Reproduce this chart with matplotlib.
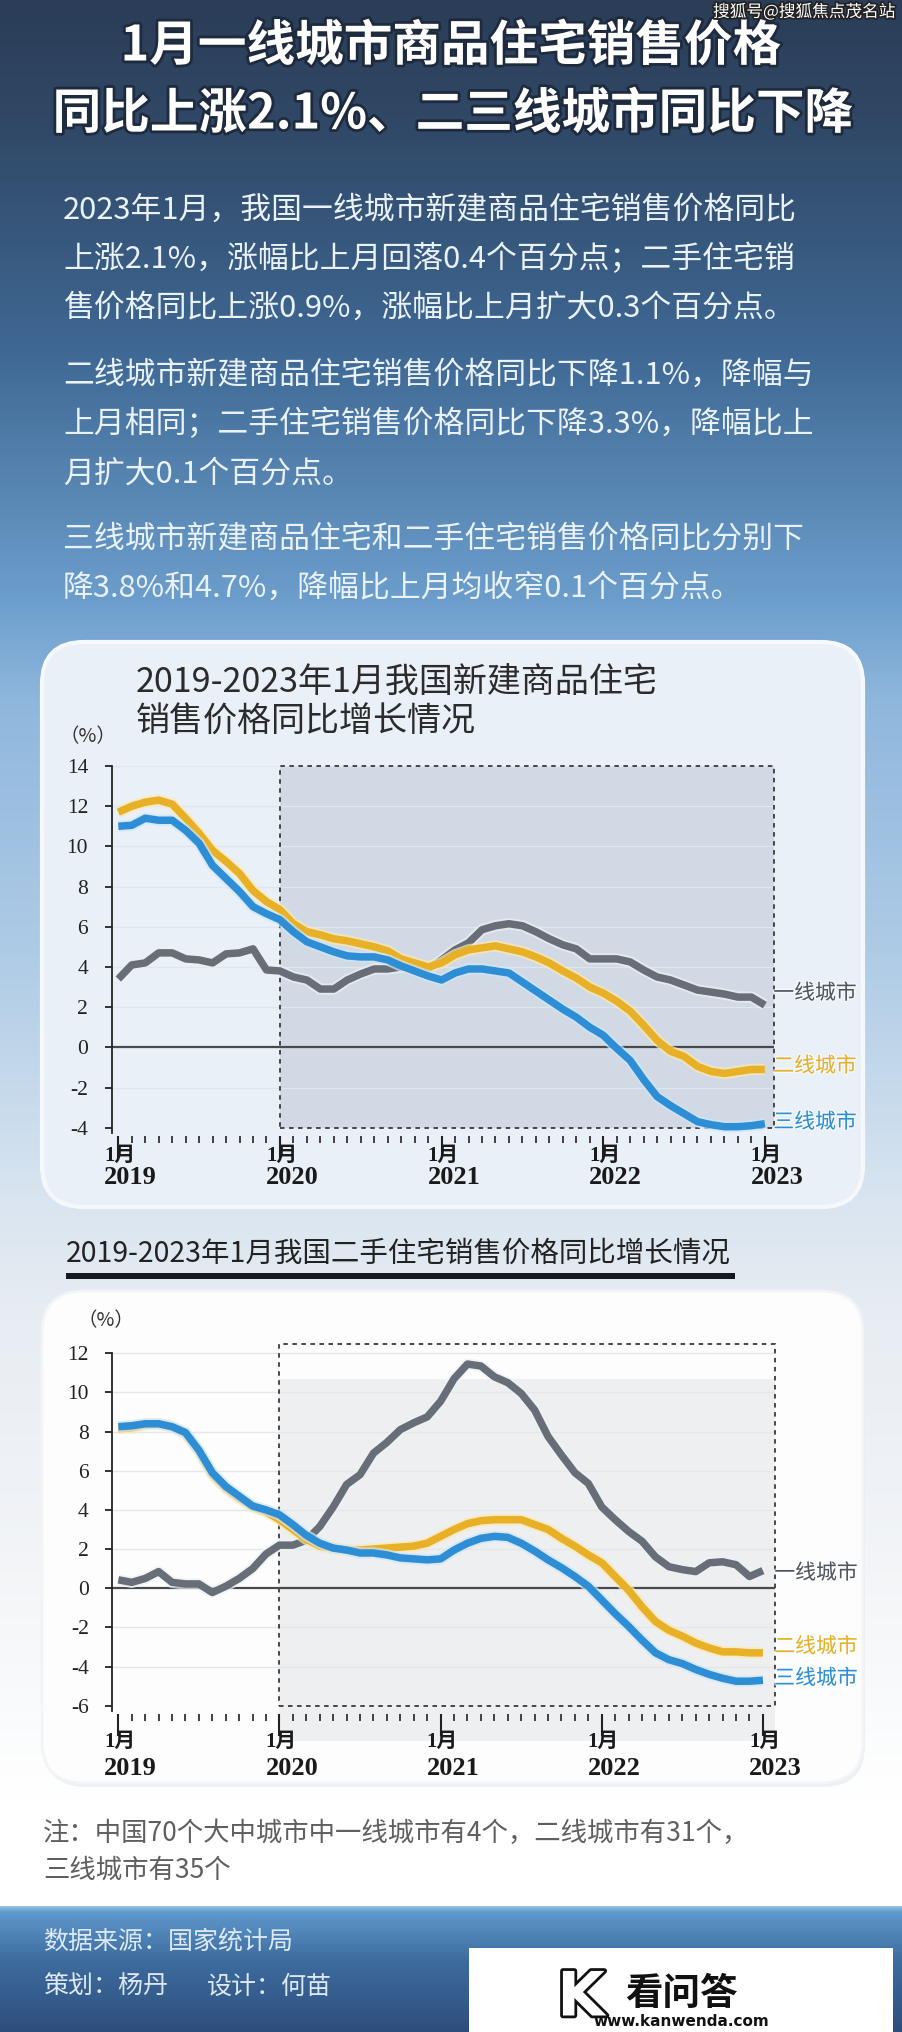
import numpy as np
import matplotlib
matplotlib.use('Agg')
import matplotlib.pyplot as plt
from matplotlib.patches import FancyBboxPatch, Rectangle
from matplotlib import patheffects as pe
from matplotlib import transforms

plt.rcParams['font.family'] = ['Noto Sans CJK SC', 'DejaVu Sans']

# 数据：2019年1月 - 2023年1月，月度同比(%)
months = np.arange(49)
new_t1 = [3.4, 4.1, 4.2, 4.7, 4.7, 4.4, 4.35, 4.2, 4.65, 4.7, 4.9, 3.85, 3.8, 3.5, 3.35, 2.9, 2.9,
          3.35, 3.65, 3.9, 3.9, 4.0, 4.0, 3.9, 4.35, 4.85, 5.2, 5.85, 6.05, 6.15, 6.05, 5.75, 5.4,
          5.1, 4.9, 4.4, 4.4, 4.4, 4.25, 3.85, 3.5, 3.35, 3.1, 2.85, 2.75, 2.65, 2.5, 2.5, 2.1]
new_t2 = [11.7, 12.0, 12.2, 12.3, 12.1, 11.4, 10.65, 9.8, 9.25, 8.65, 7.8, 7.25, 6.85, 6.15, 5.75,
          5.6, 5.4, 5.3, 5.15, 5.0, 4.8, 4.4, 4.2, 4.0, 4.2, 4.6, 4.85, 4.95, 5.05, 4.9, 4.75, 4.5,
          4.2, 3.8, 3.45, 3.0, 2.7, 2.3, 1.8, 1.1, 0.35, -0.2, -0.45, -0.95, -1.2, -1.3, -1.2, -1.1, -1.1]
new_t3 = [11.0, 11.05, 11.4, 11.3, 11.3, 10.8, 10.15, 9.05, 8.4, 7.75, 7.0, 6.65, 6.35, 5.75, 5.25,
          5.0, 4.75, 4.55, 4.5, 4.5, 4.35, 4.05, 3.8, 3.55, 3.35, 3.7, 3.9, 3.9, 3.8, 3.7, 3.25, 2.8,
          2.35, 1.9, 1.5, 1.0, 0.6, -0.05, -0.65, -1.6, -2.45, -2.9, -3.3, -3.7, -3.85, -3.95, -3.95, -3.9, -3.8]
used_t1 = [0.43, 0.3, 0.5, 0.85, 0.3, 0.22, 0.22, -0.22, 0.1, 0.5, 1.0, 1.75, 2.2, 2.2, 2.45, 3.15,
           4.15, 5.3, 5.8, 6.9, 7.45, 8.1, 8.45, 8.75, 9.55, 10.7, 11.45, 11.35, 10.8, 10.5, 9.95, 9.1,
           7.75, 6.8, 5.9, 5.35, 4.15, 3.5, 2.9, 2.4, 1.6, 1.1, 0.95, 0.85, 1.3, 1.35, 1.2, 0.6, 0.9]
used_t2 = [8.15, 8.2, 8.35, 8.4, 8.25, 7.9, 7.0, 5.8, 5.1, 4.6, 4.15, 3.9, 3.5, 3.0, 2.5, 2.15, 2.05,
           1.95, 1.95, 2.0, 2.05, 2.1, 2.15, 2.3, 2.65, 3.0, 3.3, 3.45, 3.5, 3.5, 3.5, 3.25, 3.0, 2.55,
           2.15, 1.7, 1.3, 0.6, -0.1, -0.95, -1.7, -2.15, -2.45, -2.8, -3.05, -3.25, -3.25, -3.3, -3.3]
used_t3 = [8.25, 8.3, 8.4, 8.4, 8.25, 7.95, 7.05, 5.9, 5.2, 4.7, 4.2, 4.0, 3.75, 3.25, 2.7, 2.3, 2.05,
           1.95, 1.8, 1.8, 1.7, 1.55, 1.5, 1.45, 1.5, 1.95, 2.3, 2.55, 2.65, 2.6, 2.3, 1.9, 1.45, 1.05,
           0.6, 0.1, -0.6, -1.3, -1.95, -2.65, -3.3, -3.65, -3.85, -4.15, -4.4, -4.6, -4.75, -4.75, -4.7]

year_ticks = [0, 12, 24, 36, 48]
year_labels = ['2019', '2020', '2021', '2022', '2023']
series_names = ['一线城市', '二线城市', '三线城市']
line_colors = ['#686e77', '#e8b026', '#2e8ed5']
halo_colors = ['#eef1f4', '#fbe9b0', '#cfe6f8']
label_colors = ['#4f565f', '#e6b02a', '#2e8ed5']

W, H = 902, 2032
fig = plt.figure(figsize=(W / 100, H / 100), dpi=100)
bg = fig.add_axes([0, 0, 1, 1])
bg.set_xlim(0, W)
bg.set_ylim(H, 0)
bg.axis('off')

# 背景渐变
stop_y = [0, 140, 350, 600, 700, 950, 1200, 1320, 1550, 1800, 1906]
stop_c = ['#2b3d57', '#314a69', '#3f6894', '#6c9ecc', '#8fb7dd', '#aecbe6', '#d9e5f0',
          '#e8edf3', '#f2f4f7', '#ffffff', '#ffffff']
rgb = np.array([matplotlib.colors.to_rgb(c) for c in stop_c])
yy = np.arange(H)
grad = np.stack([np.interp(yy, stop_y, rgb[:, i]) for i in range(3)], axis=-1)[:, None, :]
foot_y = [1906, 1912, 1960, 2032]
foot_c = np.array([matplotlib.colors.to_rgb(c) for c in ['#8fc0e6', '#5f98cc', '#3d6c9e', '#2d4e7c']])
mask = yy >= 1906
for i in range(3):
    grad[mask, 0, i] = np.interp(yy[mask], foot_y, foot_c[:, i])
bg.imshow(grad, extent=[0, W, H, 0], aspect='auto', zorder=0)

# 标题
title_fx = [pe.withStroke(linewidth=4, foreground='#1e2b3e')]
bg.text(451, 46, '1月一线城市商品住宅销售价格', ha='center', va='center', fontsize=35,
        fontweight='bold', color='white', path_effects=title_fx)
bg.text(453, 114, '同比上涨2.1%、二三线城市同比下降', ha='center', va='center', fontsize=35,
        fontweight='bold', color='white', path_effects=title_fx)
bg.text(895, 12, '搜狐号@搜狐焦点茂名站', ha='right', va='center', fontsize=12, color='white',
        path_effects=[pe.withStroke(linewidth=2.5, foreground='#222222')])

paragraph = ['2023年1月，我国一线城市新建商品住宅销售价格同比',
             '上涨2.1%，涨幅比上月回落0.4个百分点；二手住宅销',
             '售价格同比上涨0.9%，涨幅比上月扩大0.3个百分点。',
             '二线城市新建商品住宅销售价格同比下降1.1%，降幅与',
             '上月相同；二手住宅销售价格同比下降3.3%，降幅比上',
             '月扩大0.1个百分点。',
             '三线城市新建商品住宅和二手住宅销售价格同比分别下',
             '降3.8%和4.7%，降幅比上月均收窄0.1个百分点。']
para_y = [210, 259, 308, 375, 424, 474, 540, 588]
for txt, y in zip(paragraph, para_y):
    bg.text(63, y, txt, ha='left', va='center', fontsize=22.2, color='#e9f1f9', fontweight='light')

# 面板
bg.add_patch(FancyBboxPatch((42, 642), 821, 565, boxstyle='round,pad=0,rounding_size=42',
                            facecolor='#e9f0f7', edgecolor='#f6f9fc', lw=3, zorder=1))
bg.add_patch(FancyBboxPatch((44, 1295), 821, 492, boxstyle='round,pad=0,rounding_size=42',
                            facecolor='#e3e8ee', edgecolor='none', alpha=0.6, zorder=1))
bg.add_patch(FancyBboxPatch((42, 1291), 821, 492, boxstyle='round,pad=0,rounding_size=42',
                            facecolor='#fdfdfe', edgecolor='#f2f4f7', lw=2, zorder=1))

bg.text(136, 683, '2019-2023年1月我国新建商品住宅', ha='left', va='center', fontsize=24.5,
        color='#2b2b2b', fontweight='light', zorder=3)
bg.text(136, 722, '销售价格同比增长情况', ha='left', va='center', fontsize=24.5,
        color='#2b2b2b', fontweight='light', zorder=3)
bg.text(88, 737, '（%）', ha='center', va='center', fontsize=14, color='#333333', zorder=3)

bg.text(66, 1254, '2019-2023年1月我国二手住宅销售价格同比增长情况', ha='left', va='center',
        fontsize=20.5, color='#222222', fontweight='light', zorder=3)
bg.add_patch(Rectangle((66, 1273), 669, 6, facecolor='#151a22', edgecolor='none', zorder=3))
bg.text(106, 1321, '（%）', ha='center', va='center', fontsize=14, color='#333333', zorder=3)

# 注释与页脚
bg.text(43, 1833, '注：中国70个大中城市中一线城市有4个，二线城市有31个，', ha='left', va='center',
        fontsize=19, color='#5f5f5f', fontweight='light')
bg.text(43, 1870, '三线城市有35个', ha='left', va='center', fontsize=19, color='#5f5f5f',
        fontweight='light')
bg.text(43, 1942, '数据来源：国家统计局', ha='left', va='center', fontsize=18, color='#dce9f5',
        fontweight='light')
bg.text(43, 1987, '策划：杨丹', ha='left', va='center', fontsize=18, color='#dce9f5',
        fontweight='light')
bg.text(207, 1987, '设计：何苗', ha='left', va='center', fontsize=18, color='#dce9f5',
        fontweight='light')
bg.add_patch(Rectangle((469, 1948), 424, 90, facecolor='white', edgecolor='none', zorder=2))
bg.text(581, 1999, 'K', ha='center', va='center', fontsize=44, fontweight='bold', color='white',
        family='DejaVu Sans', zorder=3,
        path_effects=[pe.withStroke(linewidth=4, foreground='#111111')])
bg.text(681, 1993, '看问答', ha='center', va='center', fontsize=27, fontweight='bold',
        color='#111111', zorder=3)
bg.text(681, 2022, 'www.kanwenda.com', ha='center', va='center', fontsize=11, fontweight='bold',
        color='#111111', family='Liberation Sans Narrow', zorder=3)


def px_axes(x0, y0, x1, y1):
    return fig.add_axes([x0 / W, 1 - y1 / H, (x1 - x0) / W, (y1 - y0) / H])


def draw_chart(ax, series, ymin, ymax, ytop, xmin, xmax, shade_box, shade_color,
               grid_color, label_y, lab_off):
    ax.set_facecolor('none')
    ax.set_xlim(xmin, xmax)
    ax.set_ylim(ymin, ytop)
    for s in ['top', 'right', 'bottom']:
        ax.spines[s].set_visible(False)
    ax.spines['left'].set_bounds(ymin - 0.25, ymax)
    ax.spines['left'].set_color('#222222')
    ax.spines['left'].set_linewidth(1.3)
    ax.spines['bottom'].set_position(('outward', 6))

    # 阴影区与虚线框
    sx0, sy0, sx1, sy1 = shade_box
    ax.add_patch(Rectangle((12, sy0), xmax - 12, sy1 - sy0, facecolor=shade_color,
                           edgecolor='none', zorder=0, clip_on=False))
    ax.add_patch(Rectangle((12, ymin), xmax - 12, ytop - ymin, facecolor='none',
                           edgecolor='#3a3a3a', lw=1.3, linestyle=(0, (2.5, 2.5)), zorder=1,
                           clip_on=False))

    yt = np.arange(ymin, ymax + 1, 2)
    for v in yt:
        if v not in (0, ymin):
            ax.axhline(v, color=grid_color, lw=1, zorder=0.5)
    ax.axhline(0, color='#4a4a4a', lw=1.6, zorder=1)

    for vals, c, hc in zip(series, line_colors, halo_colors):
        ax.plot(months, vals, color=c, lw=5.4, solid_joinstyle='round', solid_capstyle='butt',
                zorder=3, clip_on=False,
                path_effects=[pe.Stroke(linewidth=8.2, foreground=hc, alpha=0.7), pe.Normal()])

    ax.set_yticks(yt)
    ax.set_yticklabels([str(int(v)) for v in yt], family='Liberation Serif', fontsize=15.5,
                       color='#222222')
    ax.tick_params(axis='y', direction='out', length=5, width=1.3, color='#222222', pad=12)
    ax.set_xticks(year_ticks)
    ax.set_xticklabels([])
    ax.set_xticks(months, minor=True)
    ax.tick_params(axis='x', which='major', direction='out', length=16, width=1.5, color='#222222')
    ax.tick_params(axis='x', which='minor', direction='out', length=5, width=1.2, color='#222222')

    base = transforms.blended_transform_factory(ax.transData, ax.transAxes)
    for t, yl in zip(year_ticks, year_labels):
        tr1 = transforms.offset_copy(base, fig=fig, x=-14, y=-lab_off[0], units='dots')
        tr2 = transforms.offset_copy(base, fig=fig, x=-14, y=-lab_off[1], units='dots')
        ax.text(t, 0, '1月', transform=tr1, ha='left', va='center', fontsize=15,
                fontweight='bold', family=['Liberation Serif', 'Noto Sans CJK SC'],
                color='#1a1a1a', clip_on=False)
        ax.text(t, 0, yl, transform=tr2, ha='left', va='center', fontsize=19,
                fontweight='bold', family='Liberation Serif', color='#1a1a1a', clip_on=False)

    for name, ly, lc in zip(series_names, label_y, label_colors):
        ax.text(xmax - 0.05, ly, name, ha='left', va='center', fontsize=15, color=lc,
                clip_on=False, zorder=4,
                path_effects=[pe.withStroke(linewidth=2, foreground='white', alpha=0.6)])


ax1 = px_axes(111.7, 766, 774, 1127.7)
draw_chart(ax1, [new_t1, new_t2, new_t3], -4, 14, 14, -0.49, 48.68,
           (12, -4, 48.68, 14), '#d0d9e4', '#dfe6ee', [2.7, -0.93, -3.72], (28, 50))

ax2 = px_axes(112.3, 1343.5, 775, 1705.7)
draw_chart(ax2, [used_t1, used_t2, used_t3], -6, 12, 12.5, -0.45, 48.9,
           (12, -7.8, 48.9, 10.7), '#eeeff1', '#e4e6e9', [0.78, -2.98, -4.6], (36, 63))

fig.savefig('out.png', dpi=100)
